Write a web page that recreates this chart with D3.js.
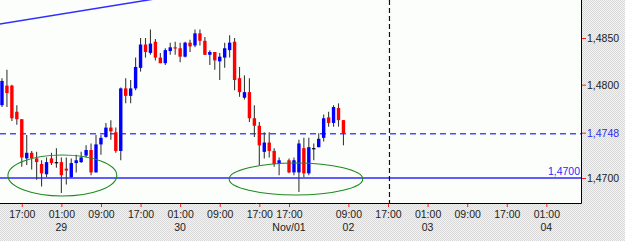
<!DOCTYPE html>
<html>
<head>
<meta charset="utf-8">
<script src="https://cdn.jsdelivr.net/npm/d3@7"></script>
<style>
  body { margin: 0; background: #fff; }
  text { font-family: "Liberation Sans", Arial, sans-serif; }
</style>
</head>
<body>
<div id="chart"></div>
<script>
// hourly candles, slot 57 is the weekend gap
const opens = [
  1.4778, 1.4799, 1.4799, 1.4771, 1.4763, 1.4721, 1.4727, 1.4721, 1.4715, 1.4704,
  1.4721, 1.4717, 1.4717, 1.4710, 1.4701, 1.4716, 1.4717, 1.4724, 1.4730, 1.4706,
  1.4736, 1.4744, 1.4754, 1.4749, 1.4729, 1.4796, 1.4788, 1.4796, 1.4818, 1.4843,
  1.4834, 1.4846, 1.4829, 1.4823, 1.4836, 1.4840, 1.4839, 1.4830, 1.4845, 1.4842,
  1.4855, 1.4847, 1.4832, 1.4835, 1.4825, 1.4829, 1.4837, 1.4846, 1.4807, 1.4786,
  1.4792, 1.4764, 1.4756, 1.4728, 1.4738, 1.4729, 1.4715, null, 1.4719, 1.4706,
  1.4706, 1.4732, 1.4705, 1.4732, 1.4733, 1.4743, 1.4765, 1.4759, 1.4775, 1.4762
];
const highs = [
  1.4807, 1.4816, 1.4800, 1.4778, 1.4763, 1.4746, 1.4729, 1.4728, 1.4719, 1.4722,
  1.4727, 1.4732, 1.4722, 1.4722, 1.4721, 1.4725, 1.4728, 1.4735, 1.4737, 1.4746,
  1.4746, 1.4759, 1.4762, 1.4754, 1.4797, 1.4807, 1.4805, 1.4829, 1.4850, 1.4850,
  1.4859, 1.4849, 1.4834, 1.4839, 1.4845, 1.4846, 1.4845, 1.4846, 1.4848, 1.4859,
  1.4859, 1.4851, 1.4837, 1.4835, 1.4834, 1.4845, 1.4853, 1.4850, 1.4819, 1.4810,
  1.4807, 1.4778, 1.4760, 1.4749, 1.4749, 1.4732, 1.4722, null, 1.4721, 1.4722,
  1.4741, 1.4743, 1.4743, 1.4737, 1.4748, 1.4768, 1.4771, 1.4778, 1.4780, 1.4762
];
const lows = [
  1.4776, 1.4776, 1.4761, 1.4757, 1.4712, 1.4714, 1.4709, 1.4698, 1.4691, 1.4701,
  1.4714, 1.4711, 1.4684, 1.4693, 1.4700, 1.4706, 1.4716, 1.4722, 1.4703, 1.4706,
  1.4725, 1.4743, 1.4741, 1.4727, 1.4719, 1.4780, 1.4780, 1.4794, 1.4814, 1.4829,
  1.4832, 1.4826, 1.4823, 1.4821, 1.4832, 1.4832, 1.4824, 1.4829, 1.4835, 1.4840,
  1.4842, 1.4832, 1.4821, 1.4816, 1.4805, 1.4818, 1.4829, 1.4794, 1.4787, 1.4784,
  1.4760, 1.4744, 1.4714, 1.4721, 1.4722, 1.4712, 1.4703, null, 1.4705, 1.4703,
  1.4685, 1.4701, 1.4703, 1.4719, 1.4733, 1.4739, 1.4755, 1.4755, 1.4755, 1.4735
];
const closes = [
  1.4804, 1.4791, 1.4764, 1.4763, 1.4722, 1.4727, 1.4721, 1.4717, 1.4705, 1.4717,
  1.4716, 1.4717, 1.4703, 1.4708, 1.4716, 1.4719, 1.4722, 1.4730, 1.4706, 1.4736,
  1.4743, 1.4754, 1.4750, 1.4729, 1.4796, 1.4788, 1.4796, 1.4819, 1.4843, 1.4835,
  1.4844, 1.4829, 1.4823, 1.4837, 1.4840, 1.4839, 1.4830, 1.4845, 1.4841, 1.4855,
  1.4847, 1.4832, 1.4835, 1.4826, 1.4830, 1.4839, 1.4845, 1.4805, 1.4792, 1.4792,
  1.4764, 1.4756, 1.4735, 1.4738, 1.4729, 1.4715, 1.4719, null, 1.4706, 1.4719,
  1.4737, 1.4705, 1.4733, 1.4732, 1.4742, 1.4764, 1.4759, 1.4776, 1.4762, 1.4748
];

// x axis: bar slot of each tick and its labels
const tickSlots = [4, 12, 20, 28, 36, 44, 52, 58, 70, 78, 86, 94, 102, 110];
const tickTimes = ["17:00", "01:00", "09:00", "17:00", "01:00", "09:00", "17:00",
  "17:00", "09:00", "17:00", "01:00", "09:00", "17:00", "01:00"];
const tickDates = ["", "29", "", "", "30", "", "", "Nov/01", "02", "", "03", "", "", "04"];

// y axis
const priceTicks = [1.4700, 1.4800, 1.4850];
const lastPrice = 1.4748;
const supportLevel = 1.4700;

// drawings: trend line, marker, ellipses (slot, price)
const trendSlots = [-1, 40];
const trendPrices = [1.48645, 1.48997];
const markerSlot = 78.3;
const ellipseSlots = [[1.2, 23.2], [45.9, 72.9]];
const ellipsePrices = [[1.47246, 1.46807], [1.47161, 1.46818]];

class CandleChart {
  constructor(_config) {
    this.config = {
      parentElement: _config.parentElement,
      containerWidth: 625,
      containerHeight: 241,
      plotWidth: 581,
      plotHeight: 203,
    };
    this.initVis();
  }

  initVis() {
    let vis = this;
    const cfg = vis.config;

    vis.svg = d3.select(cfg.parentElement).append("svg")
      .attr("width", cfg.containerWidth)
      .attr("height", cfg.containerHeight);

    const defs = vis.svg.append("defs");
    const pat = defs.append("pattern")
      .attr("id", "dots")
      .attr("width", 2).attr("height", 2)
      .attr("patternUnits", "userSpaceOnUse");
    pat.append("rect").attr("width", 2).attr("height", 2).attr("fill", "#f3f3f3");
    pat.append("rect").attr("width", 1).attr("height", 1).attr("fill", "#d9d9d9");
    pat.append("rect").attr("x", 1).attr("y", 1).attr("width", 1).attr("height", 1).attr("fill", "#d9d9d9");

    defs.append("clipPath").attr("id", "plot-clip")
      .append("rect")
      .attr("width", cfg.plotWidth)
      .attr("height", cfg.plotHeight);

    vis.svg.append("rect")
      .attr("width", cfg.containerWidth)
      .attr("height", cfg.containerHeight)
      .attr("fill", "url(#dots)");

    vis.svg.append("rect")
      .attr("width", cfg.plotWidth)
      .attr("height", cfg.plotHeight)
      .attr("fill", "#fcfefc");

    vis.xScale = d3.scaleLinear().domain([-0.4, 117]).range([0, cfg.plotWidth]);
    vis.yScale = d3.scaleLinear().domain([1.4700, 1.4850]).range([178, 38]);

    vis.plot = vis.svg.append("g").attr("clip-path", "url(#plot-clip)");
  }

  renderVis() {
    const vis = this;
    const cfg = vis.config;
    const x = vis.xScale, y = vis.yScale;
    const fmt = (d) => d3.format(".4f")(d).replace(".", ",");

    const candles = opens.map((o, i) => ({
      i, o, h: highs[i], l: lows[i], c: closes[i],
    })).filter((d) => d.o !== null);

    // price levels
    vis.plot.append("line")
      .attr("x1", 0).attr("x2", cfg.plotWidth)
      .attr("y1", y(supportLevel)).attr("y2", y(supportLevel))
      .attr("stroke", "#5f5fff").attr("stroke-width", 2);

    vis.plot.append("line")
      .attr("x1", 0).attr("x2", cfg.plotWidth)
      .attr("y1", y(lastPrice) + 0.5).attr("y2", y(lastPrice) + 0.5)
      .attr("stroke", "#4c4cff").attr("stroke-width", 1.4)
      .attr("stroke-dasharray", "6,4");

    vis.plot.append("line")
      .attr("x1", x(markerSlot)).attr("x2", x(markerSlot))
      .attr("y1", 0).attr("y2", cfg.plotHeight)
      .attr("stroke", "#111").attr("stroke-width", 1.2)
      .attr("stroke-dasharray", "5,3");

    // candles
    const g = vis.plot.selectAll(".candle").data(candles).join("g").attr("class", "candle");
    g.append("line")
      .attr("x1", (d) => x(d.i)).attr("x2", (d) => x(d.i))
      .attr("y1", (d) => y(d.h)).attr("y2", (d) => y(d.l))
      .attr("stroke", "#3a3a3a").attr("stroke-width", 1.1);
    g.append("rect")
      .attr("x", (d) => x(d.i) - 1.7)
      .attr("width", 3.4)
      .attr("y", (d) => y(Math.max(d.o, d.c)))
      .attr("height", (d) => Math.max(1.2, Math.abs(y(d.o) - y(d.c))))
      .attr("fill", (d) => d.c > d.o ? "#0000ff" : d.c < d.o ? "#ff0000" : "#000");

    // trend line
    vis.plot.append("line")
      .attr("x1", x(trendSlots[0])).attr("y1", y(trendPrices[0]))
      .attr("x2", x(trendSlots[1])).attr("y2", y(trendPrices[1]))
      .attr("stroke", "#2f2fff").attr("stroke-width", 1.5);

    // ellipses
    vis.plot.selectAll(".ring").data(ellipseSlots).join("ellipse")
      .attr("class", "ring")
      .attr("cx", (d) => (x(d[0]) + x(d[1])) / 2)
      .attr("rx", (d) => (x(d[1]) - x(d[0])) / 2)
      .attr("cy", (d, i) => (y(ellipsePrices[i][0]) + y(ellipsePrices[i][1])) / 2)
      .attr("ry", (d, i) => (y(ellipsePrices[i][1]) - y(ellipsePrices[i][0])) / 2)
      .attr("fill", "none")
      .attr("stroke", "#1f8a1f").attr("stroke-width", 1.1);

    vis.plot.append("text")
      .attr("x", cfg.plotWidth - 1).attr("y", y(supportLevel) - 3)
      .attr("text-anchor", "end")
      .attr("font-size", "10.5px")
      .attr("fill", "#2b2bff")
      .text(fmt(supportLevel));

    // frame
    vis.svg.append("path")
      .attr("d", `M${cfg.plotWidth + 0.5},0V${cfg.plotHeight + 0.5}H0`)
      .attr("fill", "none").attr("stroke", "#000");

    // right axis
    const yAxis = d3.axisRight(y).tickValues(priceTicks).tickSize(4).tickPadding(1).tickFormat(fmt);
    const yAxisG = vis.svg.append("g")
      .attr("transform", `translate(${cfg.plotWidth + 1},0)`)
      .call(yAxis)
      .call((a) => a.select(".domain").remove());
    yAxisG.selectAll("line").attr("stroke", "#ff2020");
    yAxisG.selectAll("text")
      .attr("font-family", null)
      .attr("font-size", "10.5px")
      .attr("fill", "#222");

    const lastG = vis.svg.append("g")
      .attr("transform", `translate(${cfg.plotWidth + 1},${y(lastPrice)})`);
    lastG.append("line").attr("x2", 4).attr("stroke", "#ff2020");
    lastG.append("text")
      .attr("x", 5).attr("dy", "0.32em")
      .attr("font-size", "10.5px")
      .attr("fill", "#2b2bff")
      .text(fmt(lastPrice));

    // bottom axis
    const xAxis = d3.axisBottom(x).tickValues(tickSlots).tickSize(3).tickPadding(4)
      .tickFormat((d, i) => tickTimes[i]);
    const xAxisG = vis.svg.append("g")
      .attr("transform", `translate(0,${cfg.plotHeight + 1})`)
      .call(xAxis)
      .call((a) => a.select(".domain").remove());
    xAxisG.selectAll("line").attr("stroke", "#ff2020");
    xAxisG.selectAll("text")
      .attr("font-family", null)
      .attr("font-size", "10.5px")
      .attr("fill", "#222");

    xAxisG.selectAll(".date-label")
      .data(tickSlots.map((s, i) => ({ s, label: tickDates[i] })).filter((d) => d.label))
      .join("text")
      .attr("class", "date-label")
      .attr("x", (d) => x(d.s))
      .attr("y", 27)
      .attr("text-anchor", "middle")
      .attr("font-size", "10.5px")
      .attr("fill", "#222")
      .text((d) => d.label);
  }
}

const chart = new CandleChart({ parentElement: "#chart" });
chart.renderVis();
</script>
</body>
</html>
